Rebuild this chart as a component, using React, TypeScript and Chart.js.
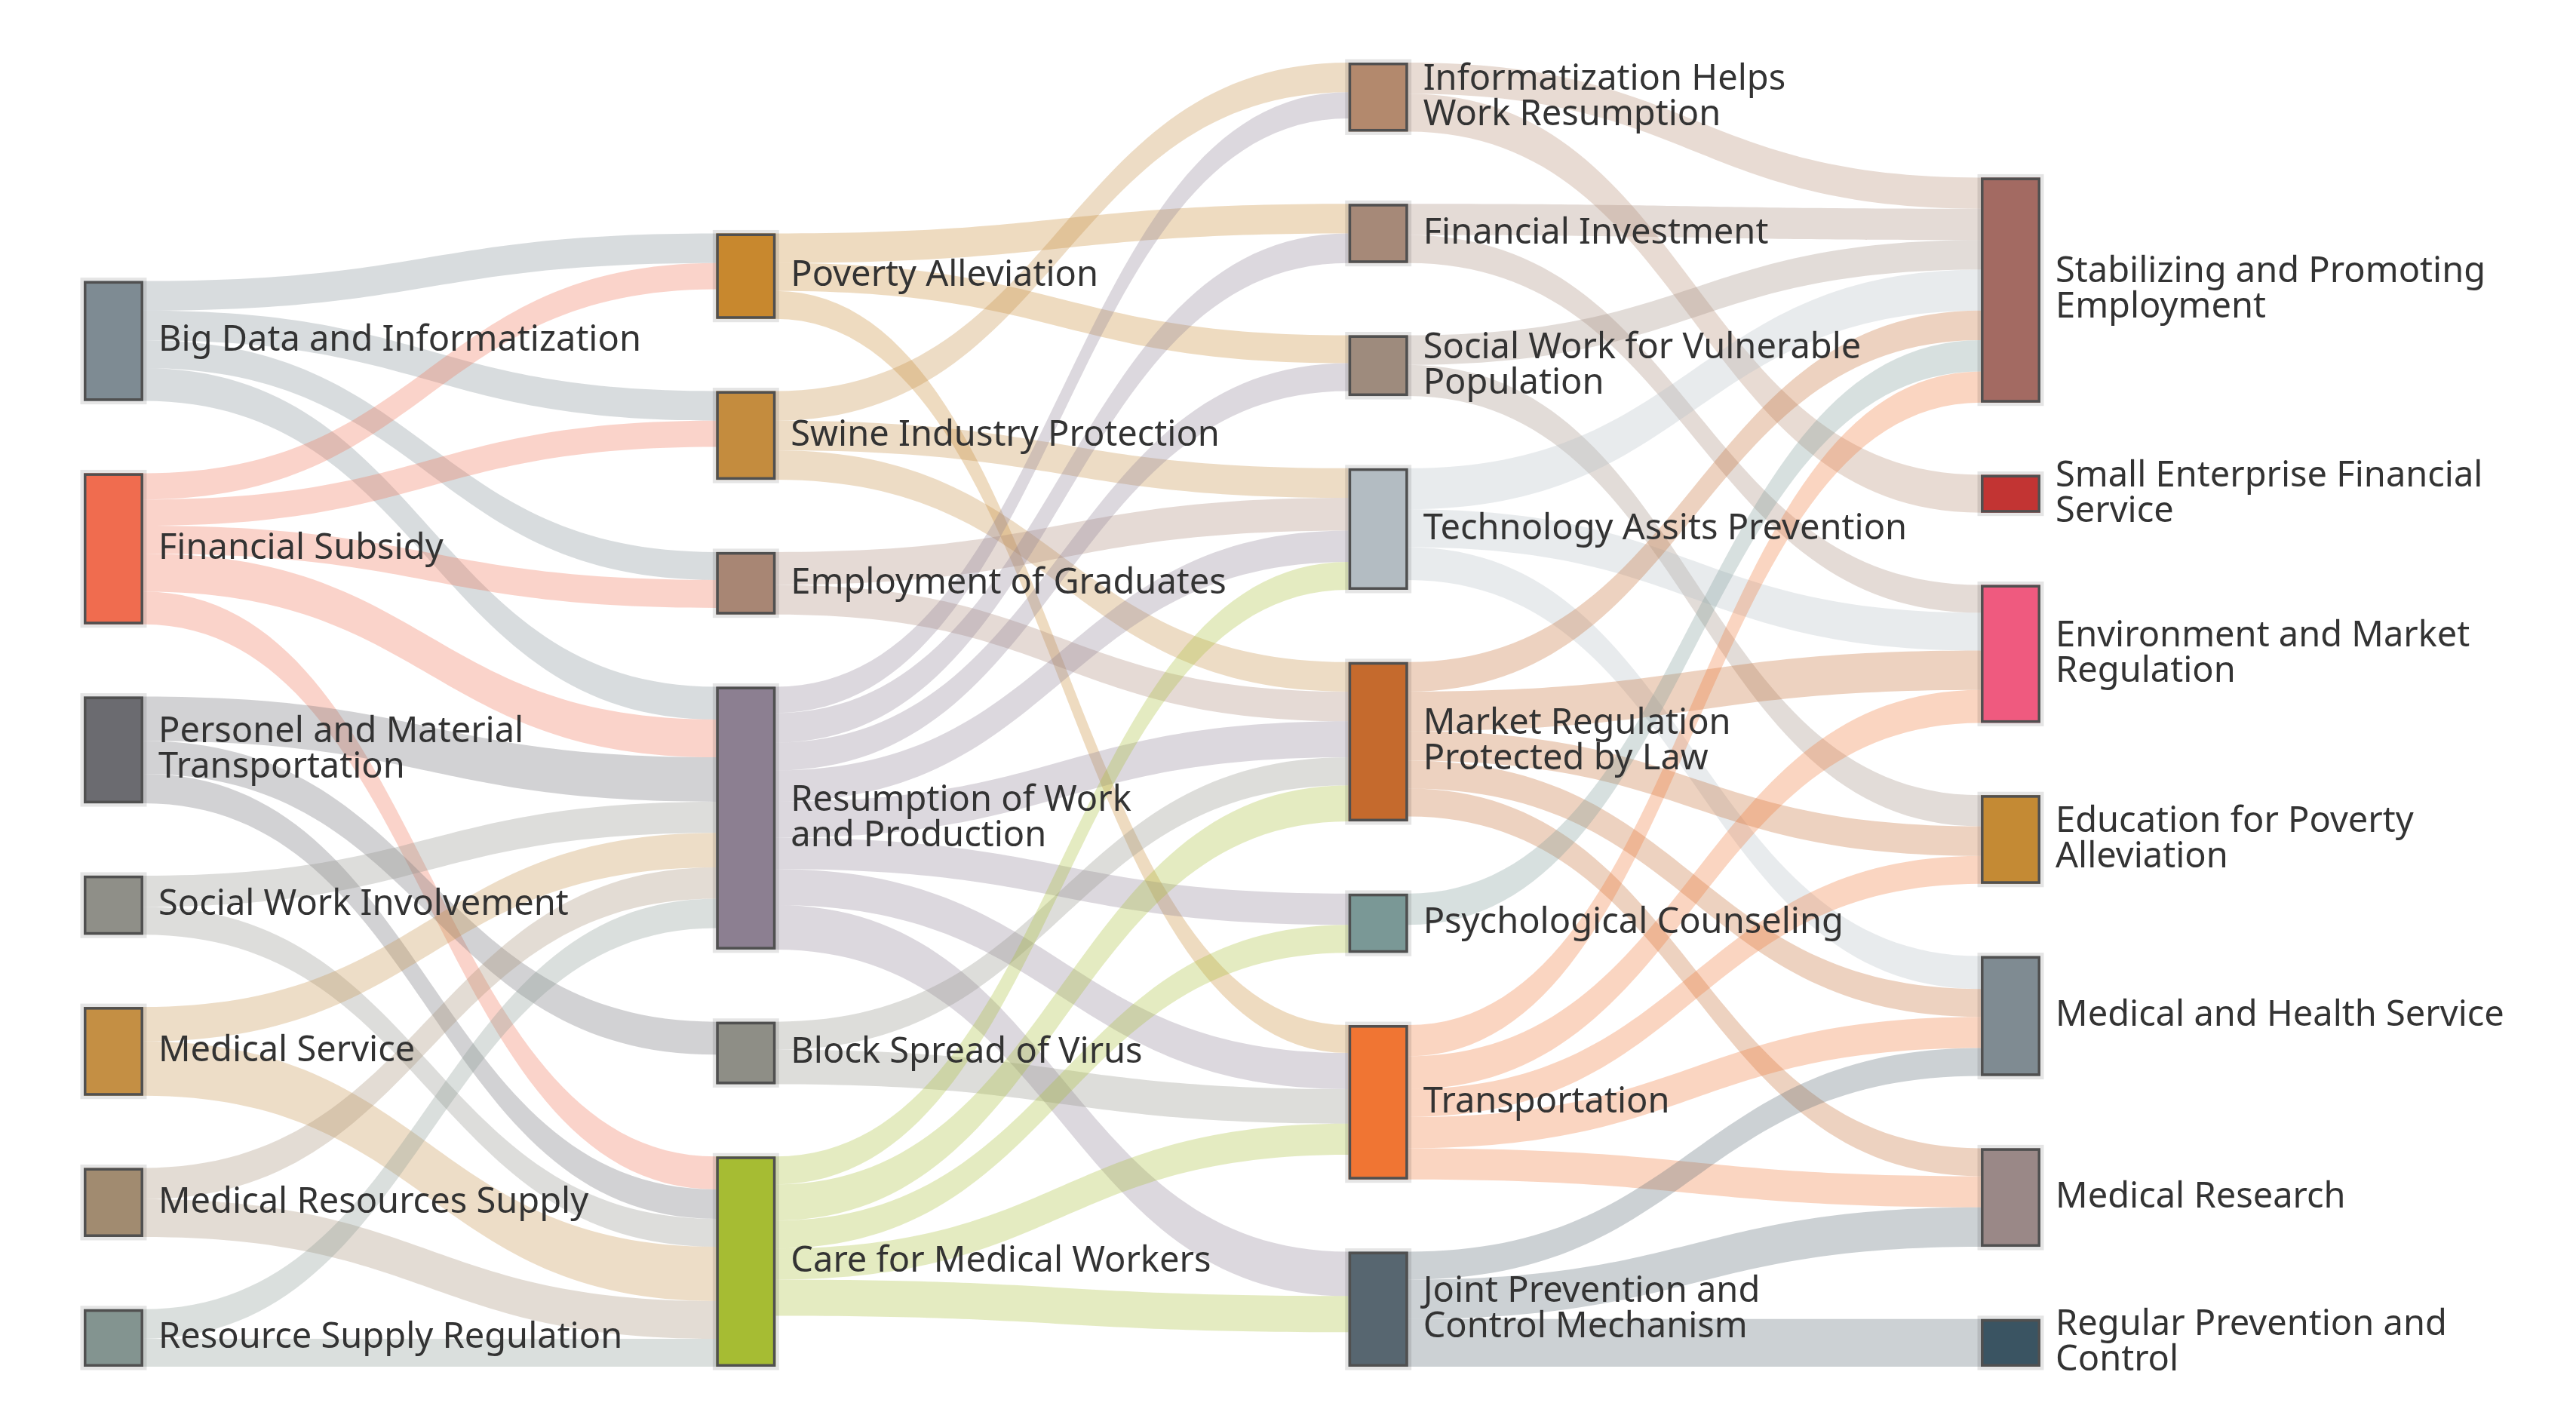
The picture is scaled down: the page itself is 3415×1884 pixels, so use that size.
import { useEffect, useRef } from 'react';
import { Chart, registerables } from 'chart.js';

Chart.register(...registerables);

// ---------------- data ----------------
const NODE_NAMES: string[] = [
  'Big Data and Informatization',
  'Financial Subsidy',
  'Personel and Material\nTransportation',
  'Social Work Involvement',
  'Medical Service',
  'Medical Resources Supply',
  'Resource Supply Regulation',
  'Poverty Alleviation',
  'Swine Industry Protection',
  'Employment of Graduates',
  'Resumption of Work\nand Production',
  'Block Spread of Virus',
  'Care for Medical Workers',
  'Informatization Helps\nWork Resumption',
  'Financial Investment',
  'Social Work for Vulnerable\nPopulation',
  'Technology Assits Prevention',
  'Market Regulation\nProtected by Law',
  'Psychological Counseling',
  'Transportation',
  'Joint Prevention and\nControl Mechanism',
  'Stabilizing and Promoting\nEmployment',
  'Small Enterprise Financial\nService',
  'Environment and Market\nRegulation',
  'Education for Poverty\nAlleviation',
  'Medical and Health Service',
  'Medical Research',
  'Regular Prevention and\nControl',
];

const NODE_COLUMNS: number[] = [
  0, 0, 0, 0, 0, 0, 0,
  1, 1, 1, 1, 1, 1,
  2, 2, 2, 2, 2, 2, 2, 2,
  3, 3, 3, 3, 3, 3, 3,
];

const NODE_COLORS: string[] = [
  '#7e8b93', '#f06c4f', '#6b6b70', '#8f8f88', '#c48f44', '#a18b70', '#839490',
  '#c8882e', '#c48c3e', '#a88674', '#8c7f91', '#8e8e86', '#a6bc33',
  '#b3896d', '#a68978', '#9e8b7d', '#b3bcc2', '#c56a2d', '#7a9896', '#f07533', '#576670',
  '#a36a62', '#c23433', '#ef5a7f', '#c48a34', '#7f8b92', '#9a8887', '#3a5462',
];

const LINK_SOURCES: number[] = [
  0, 0, 0, 0,
  1, 1, 1, 1, 1,
  2, 2, 2,
  3, 3,
  4, 4,
  5, 5,
  6, 6,
  7, 7, 7,
  8, 8, 8,
  9, 9,
  10, 10, 10, 10, 10, 10, 10, 10,
  11, 11,
  12, 12, 12, 12, 12,
  13, 13,
  14, 14,
  15, 15,
  16, 16, 16,
  17, 17, 17, 17, 17,
  18,
  19, 19, 19, 19, 19,
  20, 20, 20,
];

const LINK_TARGETS: number[] = [
  7, 8, 9, 10,
  7, 8, 9, 10, 12,
  10, 11, 12,
  10, 12,
  10, 12,
  10, 12,
  10, 12,
  14, 15, 19,
  13, 16, 17,
  16, 17,
  13, 14, 15, 16, 17, 18, 19, 20,
  17, 19,
  16, 17, 18, 19, 20,
  21, 22,
  21, 23,
  21, 24,
  21, 23, 25,
  21, 23, 24, 25, 26,
  21,
  21, 23, 24, 25, 26,
  25, 26, 27,
];

const LINK_VALUES: number[] = [
  18, 18, 17, 20,
  16, 16, 17, 23, 20,
  27, 20, 18,
  19, 17,
  21, 33,
  19, 23,
  18, 17,
  18, 17, 17,
  18, 18, 18,
  20, 18,
  16, 18, 17, 19, 22, 19, 22, 27,
  17, 21,
  17, 22, 17, 19, 22,
  19, 23,
  19, 17,
  18, 19,
  25, 23, 20,
  18, 24, 18, 17, 17,
  19,
  19, 20, 17, 19, 19,
  17, 24, 29,
];

// ---------------- style / layout constants ----------------
const CANVAS_W = 3415;
const CANVAS_H = 1884;
const NODE_GAP = 44; // in value units
const NODE_W = 0.0942; // node width in column units
const LINK_ALPHA = 0.3;
const FONT_SIZE = 47;
const LINE_H = 47;
const LABEL_PAD = 20;

function rgba(hex: string, a: number) {
  const h = hex.replace('#', '');
  const r = parseInt(h.slice(0, 2), 16);
  const g = parseInt(h.slice(2, 4), 16);
  const b = parseInt(h.slice(4, 6), 16);
  return `rgba(${r},${g},${b},${a})`;
}

type LNode = { col: number; value: number; top: number; bottom: number; ins: number[]; outs: number[] };
type LLink = { s: number; t: number; v: number; sOff: number; tOff: number };

function computeLayout() {
  const n = NODE_NAMES.length;
  const nodes: LNode[] = [];
  for (let i = 0; i < n; i++) nodes.push({ col: NODE_COLUMNS[i], value: 0, top: 0, bottom: 0, ins: [], outs: [] });
  const links: LLink[] = LINK_SOURCES.map((s, i) => ({ s, t: LINK_TARGETS[i], v: LINK_VALUES[i], sOff: 0, tOff: 0 }));
  links.forEach((l, i) => {
    nodes[l.s].outs.push(i);
    nodes[l.t].ins.push(i);
  });
  nodes.forEach((nd) => {
    const inSum = nd.ins.reduce((a, i) => a + links[i].v, 0);
    const outSum = nd.outs.reduce((a, i) => a + links[i].v, 0);
    nd.value = Math.max(inSum, outSum);
  });
  const cols = Math.max(...NODE_COLUMNS) + 1;
  let maxH = 0;
  for (let c = 0; c < cols; c++) {
    const idx = nodes.map((_, i) => i).filter((i) => nodes[i].col === c);
    let cursor = 0;
    for (let k = idx.length - 1; k >= 0; k--) {
      const nd = nodes[idx[k]];
      nd.bottom = cursor;
      nd.top = cursor + nd.value;
      cursor = nd.top + NODE_GAP;
    }
    maxH = Math.max(maxH, cursor - NODE_GAP);
  }
  nodes.forEach((nd) => {
    const outs = [...nd.outs].sort((a, b) => nodes[links[b].t].top - nodes[links[a].t].top);
    let off = 0;
    outs.forEach((li) => {
      links[li].sOff = off;
      off += links[li].v;
    });
    const ins = [...nd.ins].sort((a, b) => nodes[links[b].s].top - nodes[links[a].s].top);
    off = 0;
    ins.forEach((li) => {
      links[li].tOff = off;
      off += links[li].v;
    });
  });
  return { nodes, links, maxH, cols };
}

const LAYOUT = computeLayout();

const sankeyPlugin = {
  id: 'sankeyDraw',
  beforeDatasetsDraw(chart: any) {
    const { ctx } = chart;
    const xs = chart.scales.x;
    const ys = chart.scales.y;
    const { nodes, links } = LAYOUT;
    ctx.save();
    links.forEach((l) => {
      const sn = nodes[l.s];
      const tn = nodes[l.t];
      const x0 = xs.getPixelForValue(sn.col + NODE_W);
      const x1 = xs.getPixelForValue(tn.col);
      const y0t = ys.getPixelForValue(sn.top - l.sOff);
      const y0b = ys.getPixelForValue(sn.top - l.sOff - l.v);
      const y1t = ys.getPixelForValue(tn.top - l.tOff);
      const y1b = ys.getPixelForValue(tn.top - l.tOff - l.v);
      const xm = (x0 + x1) / 2;
      ctx.beginPath();
      ctx.moveTo(x0, y0t);
      ctx.bezierCurveTo(xm, y0t, xm, y1t, x1, y1t);
      ctx.lineTo(x1, y1b);
      ctx.bezierCurveTo(xm, y1b, xm, y0b, x0, y0b);
      ctx.closePath();
      ctx.fillStyle = rgba(NODE_COLORS[l.s], LINK_ALPHA);
      ctx.fill();
    });
    nodes.forEach((nd, i) => {
      const xl = xs.getPixelForValue(nd.col);
      const xr = xs.getPixelForValue(nd.col + NODE_W);
      const yt = ys.getPixelForValue(nd.top);
      const yb = ys.getPixelForValue(nd.bottom);
      ctx.lineWidth = 9;
      ctx.strokeStyle = 'rgba(0,0,0,0.10)';
      ctx.strokeRect(xl, yt, xr - xl, yb - yt);
      ctx.fillStyle = NODE_COLORS[i];
      ctx.fillRect(xl, yt, xr - xl, yb - yt);
      ctx.lineWidth = 3.5;
      ctx.strokeStyle = '#505050';
      ctx.strokeRect(xl + 1.75, yt + 1.75, xr - xl - 3.5, yb - yt - 3.5);
    });
    ctx.restore();
  },
  afterDatasetsDraw(chart: any) {
    const { ctx } = chart;
    const xs = chart.scales.x;
    const ys = chart.scales.y;
    const { nodes } = LAYOUT;
    ctx.save();
    ctx.font = `400 ${FONT_SIZE}px "Noto Sans", "DejaVu Sans", sans-serif`;
    ctx.fillStyle = '#333333';
    ctx.textAlign = 'left';
    ctx.textBaseline = 'middle';
    nodes.forEach((nd, i) => {
      const xr = xs.getPixelForValue(nd.col + NODE_W);
      const cy = (ys.getPixelForValue(nd.top) + ys.getPixelForValue(nd.bottom)) / 2;
      const lines = NODE_NAMES[i].split('\n');
      lines.forEach((ln, k) => {
        ctx.fillText(ln, xr + LABEL_PAD, cy + (k - (lines.length - 1) / 2) * LINE_H);
      });
    });
    ctx.restore();
  },
};

export default function App() {
  const ref = useRef<HTMLCanvasElement | null>(null);
  useEffect(() => {
    document.body.style.margin = '0';
    document.body.style.overflow = 'hidden';
    if (!ref.current) return;
    const { nodes, maxH, cols } = LAYOUT;
    const chart = new Chart(ref.current, {
      type: 'scatter',
      data: {
        datasets: [
          {
            label: 'nodes',
            data: nodes.map((nd) => ({ x: nd.col + NODE_W / 2, y: (nd.top + nd.bottom) / 2 })),
            pointRadius: 0,
            pointHoverRadius: 0,
          },
        ],
      },
      options: {
        animation: false,
        responsive: true,
        maintainAspectRatio: false,
        devicePixelRatio: 1,
        events: [],
        layout: { padding: { left: 111, right: 710, top: 83, bottom: 72 } },
        plugins: { legend: { display: false }, tooltip: { enabled: false } },
        scales: {
          x: { type: 'linear', min: 0, max: cols - 1 + NODE_W, display: false },
          y: { type: 'linear', min: 0, max: maxH, display: false },
        },
      },
      plugins: [sankeyPlugin],
    });
    return () => chart.destroy();
  }, []);
  return (
    <div style={{ position: 'relative', width: CANVAS_W, height: CANVAS_H, background: '#fff' }}>
      <canvas ref={ref} />
    </div>
  );
}
